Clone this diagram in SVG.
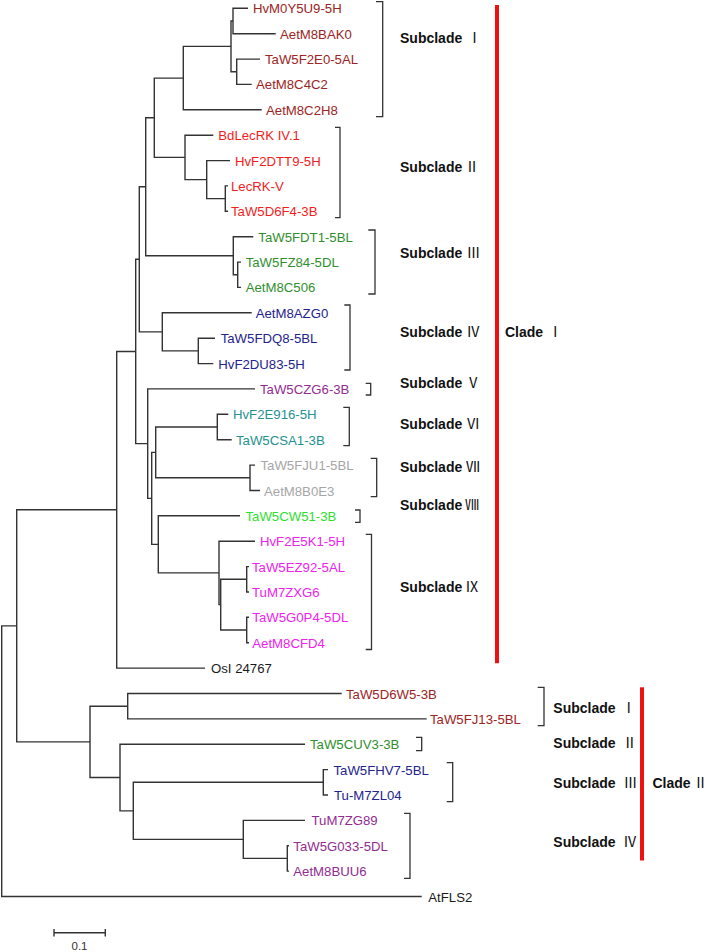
<svg xmlns="http://www.w3.org/2000/svg" width="709" height="952" viewBox="0 0 709 952">
<style>
text{font-family:"Liberation Sans",Arial,"Noto Sans CJK SC",sans-serif;}
.lf{font-size:13.2px;}
.sub{font-size:14px;font-weight:bold;fill:#111;}
.num{font-family:"Noto Sans CJK SC","DejaVu Serif",serif;font-weight:normal;font-size:14px;}
.tree{fill:none;stroke:#333;stroke-width:1.4;}
.br{fill:none;stroke:#333;stroke-width:1.3;}
.clade{stroke:#ee1111;stroke-width:4;fill:none;}
.c1{fill:#9c2424}.c2{fill:#f21d1d}.c3{fill:#2f8f2f}.c4{fill:#23238e}.c5{fill:#912c91}
.c6{fill:#269191}.c7{fill:#a6a6a6}.c8{fill:#2ee02e}.c9{fill:#ee22ee}.c0{fill:#1a1a1a}
</style>
<rect width="709" height="952" fill="#fff"/>
<g id="connectors" class="tree">
<path d="M16.7,625.85 H1.7 V896.5 H421.7"/>
<path d="M116.7,509.8 H16.7 V741.9 H90"/>
<path d="M135.7,351.5 H116.7 V668.1 H205"/>
<path d="M139.3,259.3 H135.7 V443.65 H147.7"/>
<path d="M145.7,186.7 H139.3 V331.85 H162.3"/>
<path d="M154.3,117.75 H145.7 V255.7 H233.3"/>
<path d="M183.3,78.1 H154.3 V157.4 H185"/>
<path d="M231,46.4 H183.3 V109.8 H261.7"/>
<path d="M233,21 H231 V71.75 H236.7"/>
<path d="M248,8.3 H233 V33.7 H275.7"/>
<path d="M260,59.1 H236.7 V84.4 H251.7"/>
<path d="M213.3,135.2 H185 V179.6 H206.7"/>
<path d="M230,160.6 H206.7 V198.6 H225.3"/>
<path d="M228,185.9 H225.3 V211.3 H228"/>
<path d="M253.3,236.7 H233.3 V274.75 H237.7"/>
<path d="M241,262.1 H237.7 V287.4 H241"/>
<path d="M251.7,312.8 H162.3 V350.9 H198.3"/>
<path d="M215,338.2 H198.3 V363.6 H213.3"/>
<path d="M255,388.9 H147.7 V498.4 H151.7"/>
<path d="M155.7,452.4 H151.7 V544.35 H158.3"/>
<path d="M217.3,427 H155.7 V477.8 H250"/>
<path d="M228.3,414.3 H217.3 V439.7 H231.7"/>
<path d="M255,465.1 H250 V490.5 H260"/>
<path d="M240,515.8 H158.3 V572.9 H219"/>
<path d="M255,541.2 H219 V604.65 H220.7"/>
<path d="M246.7,579.3 H220.7 V630 H246.7"/>
<path d="M249,566.6 H246.7 V592 H249"/>
<path d="M249,617.3 H246.7 V642.7 H249"/>
<path d="M127.7,706.2 H90 V777.5 H120"/>
<path d="M341.7,693.5 H127.7 V718.9 H426.7"/>
<path d="M305,744.2 H120 V810.85 H133.3"/>
<path d="M323.3,782.3 H133.3 V839.4 H243.3"/>
<path d="M328,769.6 H323.3 V795 H328"/>
<path d="M305,820.4 H243.3 V858.4 H287.3"/>
<path d="M289,845.7 H287.3 V871.1 H289"/>
</g>
<g id="leaves" class="lf">
<g id="n0"><text class="c1" x="253" y="13.3">HvM0Y5U9-5H</text></g>
<g id="n1"><text class="c1" x="280" y="38.7">AetM8BAK0</text></g>
<g id="n2"><text class="c1" x="265" y="64.1">TaW5F2E0-5AL</text></g>
<g id="n3"><text class="c1" x="256" y="89.4">AetM8C4C2</text></g>
<g id="n4"><text class="c1" x="266" y="114.8">AetM8C2H8</text></g>
<g id="n5"><text class="c2" x="218.3" y="140.2">BdLecRK IV.1</text></g>
<g id="n6"><text class="c2" x="235" y="165.6">HvF2DTT9-5H</text></g>
<g id="n7"><text class="c2" x="231" y="190.9">LecRK-V</text></g>
<g id="n8"><text class="c2" x="231" y="216.3">TaW5D6F4-3B</text></g>
<g id="n9"><text class="c3" x="258.3" y="241.7">TaW5FDT1-5BL</text></g>
<g id="n10"><text class="c3" x="245.7" y="267.1">TaW5FZ84-5DL</text></g>
<g id="n11"><text class="c3" x="245.7" y="292.4">AetM8C506</text></g>
<g id="n12"><text class="c4" x="255.7" y="317.8">AetM8AZG0</text></g>
<g id="n13"><text class="c4" x="220.7" y="343.2">TaW5FDQ8-5BL</text></g>
<g id="n14"><text class="c4" x="218.3" y="368.6">HvF2DU83-5H</text></g>
<g id="n15"><text class="c5" x="260" y="393.9">TaW5CZG6-3B</text></g>
<g id="n16"><text class="c6" x="233" y="419.3">HvF2E916-5H</text></g>
<g id="n17"><text class="c6" x="236" y="444.7">TaW5CSA1-3B</text></g>
<g id="n18"><text class="c7" x="260.5" y="470.1">TaW5FJU1-5BL</text></g>
<g id="n19"><text class="c7" x="264" y="495.5">AetM8B0E3</text></g>
<g id="n20"><text class="c8" x="245.5" y="520.8">TaW5CW51-3B</text></g>
<g id="n21"><text class="c9" x="260" y="546.2">HvF2E5K1-5H</text></g>
<g id="n22"><text class="c9" x="252" y="571.6">TaW5EZ92-5AL</text></g>
<g id="n23"><text class="c9" x="252" y="597">TuM7ZXG6</text></g>
<g id="n24"><text class="c9" x="252.3" y="622.3">TaW5G0P4-5DL</text></g>
<g id="n25"><text class="c9" x="252.3" y="647.7">AetM8CFD4</text></g>
<g id="n26"><text class="c0" x="211" y="673.1">OsI 24767</text></g>
<g id="n27"><text class="c1" x="346" y="698.5">TaW5D6W5-3B</text></g>
<g id="n28"><text class="c1" x="430" y="723.9">TaW5FJ13-5BL</text></g>
<g id="n29"><text class="c3" x="310" y="749.2">TaW5CUV3-3B</text></g>
<g id="n30"><text class="c4" x="333.5" y="774.6">TaW5FHV7-5BL</text></g>
<g id="n31"><text class="c4" x="334" y="800">Tu-M7ZL04</text></g>
<g id="n32"><text class="c5" x="311.5" y="825.4">TuM7ZG89</text></g>
<g id="n33"><text class="c5" x="293.3" y="850.7">TaW5G033-5DL</text></g>
<g id="n34"><text class="c5" x="293.3" y="876.1">AetM8BUU6</text></g>
<g id="n35"><text class="c0" x="428.3" y="901.5">AtFLS2</text></g>
</g>
<g id="brackets" class="br">
<path d="M376,1.7 H382.7 V116.7 H376"/>
<path d="M335,127.3 H340 V217.7 H335"/>
<path d="M368.3,230 H375 V294 H368.3"/>
<path d="M344.3,305 H350 V370 H344.3"/>
<path d="M365.7,383.3 H370.7 V395 H365.7"/>
<path d="M343.3,407.3 H349.3 V445.7 H343.3"/>
<path d="M370.7,458.3 H376.7 V496.7 H370.7"/>
<path d="M355,510 H360 V522.3 H355"/>
<path d="M365.7,534.3 H371.5 V649.5 H365.7"/>
<path d="M537.7,687.3 H544 V725.7 H537.7"/>
<path d="M416,737.3 H421.7 V750.7 H416"/>
<path d="M446.7,762.7 H452.7 V801.7 H446.7"/>
<path d="M404,813.3 H410 V878.3 H404"/>
</g>
<g id="clade-bars">
<line class="clade" x1="497" y1="5" x2="497" y2="663.3"/>
<line class="clade" x1="642" y1="687.3" x2="642" y2="860.5"/>
</g>
<g id="subclade-labels" class="sub">
<g id="s1"><text x="400" y="42.7">Subclade <tspan class="num" x="474.5" text-anchor="middle">Ⅰ</tspan></text></g>
<g id="s2"><text x="400" y="172.3">Subclade <tspan class="num" x="472" text-anchor="middle">Ⅱ</tspan></text></g>
<g id="s3"><text x="400" y="257.7">Subclade <tspan class="num" x="473.5" text-anchor="middle">Ⅲ</tspan></text></g>
<g id="s4"><text x="400" y="336.7">Subclade <tspan class="num" x="473.3" text-anchor="middle">Ⅳ</tspan></text></g>
<g id="s5"><text x="400" y="387.7">Subclade <tspan class="num" x="473.3" text-anchor="middle">Ⅴ</tspan></text></g>
<g id="s6"><text x="400" y="429">Subclade <tspan class="num" x="473.3" text-anchor="middle">Ⅵ</tspan></text></g>
<g id="s7"><text x="400" y="471.7">Subclade <tspan class="num" x="473" text-anchor="middle">Ⅶ</tspan></text></g>
<g id="s8"><text x="400" y="510">Subclade <tspan class="num" x="472.2" text-anchor="middle">Ⅷ</tspan></text></g>
<g id="s9"><text x="400" y="591.7">Subclade <tspan class="num" x="472" text-anchor="middle">Ⅸ</tspan></text></g>
<g id="cI"><text x="505" y="336.7">Clade <tspan class="num" x="555.3" text-anchor="middle">Ⅰ</tspan></text></g>
<g id="t1"><text x="553.3" y="713.3">Subclade <tspan class="num" x="628.7" text-anchor="middle">Ⅰ</tspan></text></g>
<g id="t2"><text x="553.3" y="748.3">Subclade <tspan class="num" x="629.7" text-anchor="middle">Ⅱ</tspan></text></g>
<g id="t3"><text x="553.3" y="787.7">Subclade <tspan class="num" x="630.5" text-anchor="middle">Ⅲ</tspan></text></g>
<g id="t4"><text x="553.3" y="846.7">Subclade <tspan class="num" x="630" text-anchor="middle">Ⅳ</tspan></text></g>
<g id="cII"><text x="652.5" y="787.7">Clade <tspan class="num" x="700.5" text-anchor="middle">Ⅱ</tspan></text></g>
</g>
<g id="scale">
<path class="tree" d="M54,932.7 H105.3 M54,929 V936.4 M105.3,929 V936.4"/>
<text x="79.5" y="949.8" font-size="11.5" fill="#333" text-anchor="middle">0.1</text>
</g>
</svg>
